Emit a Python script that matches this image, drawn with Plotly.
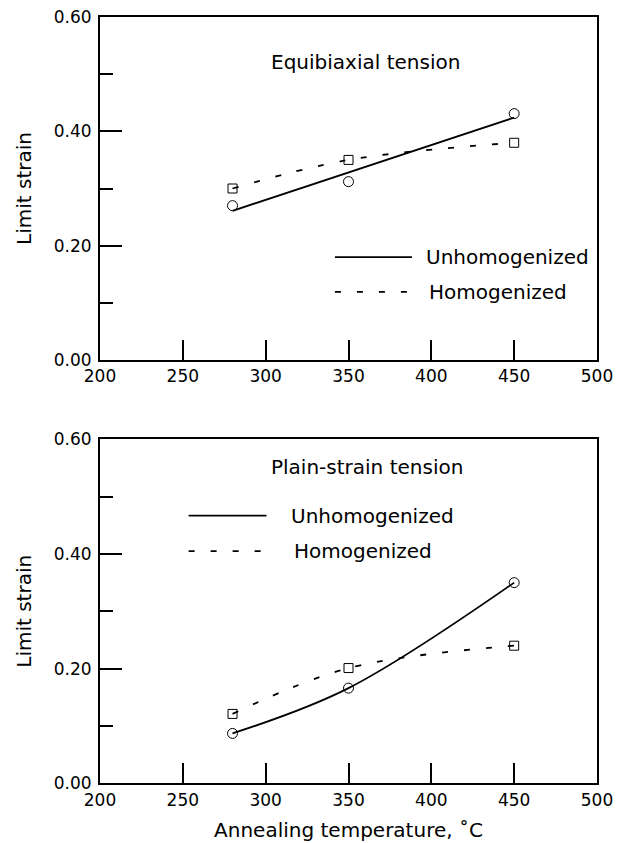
import plotly.graph_objects as go

# ---- data ----
temps = [280, 350, 450]

# Equibiaxial tension
eq_unhom = [0.27, 0.312, 0.431]
eq_hom = [0.30, 0.35, 0.38]
eq_fit_x = [280, 450]          # straight trend line for unhomogenized
eq_fit_y = [0.261, 0.424]

# Plain-strain tension
ps_unhom = [0.087, 0.166, 0.35]
ps_hom = [0.121, 0.201, 0.24]

x_ticks = [200, 250, 300, 350, 400, 450, 500]
y_ticks = [0.0, 0.2, 0.4, 0.6]

FONT = "DejaVu Sans"
BLACK = "black"
DASH = "6px,16px"

fig = go.Figure()

# ---- top panel ----
fig.add_trace(go.Scatter(x=eq_fit_x, y=eq_fit_y, mode="lines",
                         line=dict(color=BLACK, width=1.8), showlegend=False,
                         xaxis="x", yaxis="y"))
fig.add_trace(go.Scatter(x=temps, y=eq_hom, mode="lines+markers",
                         line=dict(color=BLACK, width=1.8, dash=DASH, shape="spline"),
                         marker=dict(symbol="square-open", size=9, color=BLACK, line=dict(width=1)),
                         showlegend=False, xaxis="x", yaxis="y"))
fig.add_trace(go.Scatter(x=temps, y=eq_unhom, mode="markers",
                         marker=dict(symbol="circle-open", size=10, color=BLACK, line=dict(width=1)),
                         showlegend=False, xaxis="x", yaxis="y"))

# ---- bottom panel ----
fig.add_trace(go.Scatter(x=temps, y=ps_unhom, mode="lines+markers",
                         line=dict(color=BLACK, width=1.8, shape="spline"),
                         marker=dict(symbol="circle-open", size=10, color=BLACK, line=dict(width=1)),
                         showlegend=False, xaxis="x2", yaxis="y2"))
fig.add_trace(go.Scatter(x=temps, y=ps_hom, mode="lines+markers",
                         line=dict(color=BLACK, width=1.8, dash=DASH, shape="spline"),
                         marker=dict(symbol="square-open", size=9, color=BLACK, line=dict(width=1)),
                         showlegend=False, xaxis="x2", yaxis="y2"))

xdom = [100 / 618, 597 / 618]
ydom_top = [1 - 360 / 843, 1 - 17 / 843]
ydom_bot = [1 - 783.3 / 843, 1 - 439.3 / 843]

def xax(dom, anchor, title=None):
    d = dict(domain=dom, anchor=anchor, range=[200, 500], tickvals=x_ticks,
             ticks="inside", ticklen=20, tickwidth=2, tickcolor=BLACK,
             showline=True, linewidth=2, linecolor=BLACK, mirror=True,
             showgrid=False, zeroline=False, automargin=False,
             tickfont=dict(family=FONT, size=17, color=BLACK))
    if title:
        d["title"] = dict(text=title, font=dict(family=FONT, size=20, color=BLACK), standoff=14)
    return d

def yax(dom, anchor):
    return dict(domain=dom, anchor=anchor, range=[0, 0.6], tickvals=y_ticks,
                tickformat=".2f", ticks="inside", ticklen=22, tickwidth=2, tickcolor=BLACK,
                minor=dict(ticks="inside", ticklen=13, tickwidth=2, tickcolor=BLACK, dtick=0.1,
                           showgrid=False),
                showline=True, linewidth=2, linecolor=BLACK, mirror=True,
                showgrid=False, zeroline=False, automargin=False,
                ticklabelstandoff=3,
                tickfont=dict(family=FONT, size=17, color=BLACK),
                title=dict(text="Limit strain", font=dict(family=FONT, size=20, color=BLACK),
                           standoff=17))

fig.update_layout(
    width=618, height=843,
    margin=dict(l=0, r=0, t=0, b=0, autoexpand=False),
    paper_bgcolor="white", plot_bgcolor="white",
    font=dict(family=FONT, color=BLACK),
    showlegend=False,
    xaxis=xax(xdom, "y"),
    yaxis=yax(ydom_top, "x"),
    xaxis2=xax(xdom, "y2", "Annealing temperature, \u02daC"),
    yaxis2=yax(ydom_bot, "x2"),
)

# panel labels
fig.add_annotation(x=302.0, y=0.521, xref="x", yref="y", text="Equibiaxial tension",
                   showarrow=False, xanchor="left", yanchor="middle",
                   font=dict(family=FONT, size=20, color=BLACK))
fig.add_annotation(x=302.0, y=0.552, xref="x2", yref="y2", text="Plain-strain tension",
                   showarrow=False, xanchor="left", yanchor="middle",
                   font=dict(family=FONT, size=20, color=BLACK))

# in-plot legends (line sample + label)
def legend(xr, yr, x0, x1, xt, y_solid, y_dash):
    fig.add_shape(type="line", xref=xr, yref=yr, x0=x0, x1=x1, y0=y_solid, y1=y_solid,
                  line=dict(color=BLACK, width=1.8))
    fig.add_shape(type="line", xref=xr, yref=yr, x0=x0, x1=x1, y0=y_dash, y1=y_dash,
                  line=dict(color=BLACK, width=1.8, dash=DASH))
    fig.add_annotation(x=xt, y=y_solid, xref=xr, yref=yr, text="Unhomogenized",
                       showarrow=False, xanchor="left", yanchor="middle",
                       font=dict(family=FONT, size=20, color=BLACK))
    fig.add_annotation(x=xt + 2, y=y_dash, xref=xr, yref=yr, text="Homogenized",
                       showarrow=False, xanchor="left", yanchor="middle",
                       font=dict(family=FONT, size=20, color=BLACK))

legend("x", "y", 341.8, 388.3, 395.5, 0.180, 0.119)
legend("x2", "y2", 253.5, 300.5, 314.0, 0.467, 0.405)

fig.write_html("out.html")
